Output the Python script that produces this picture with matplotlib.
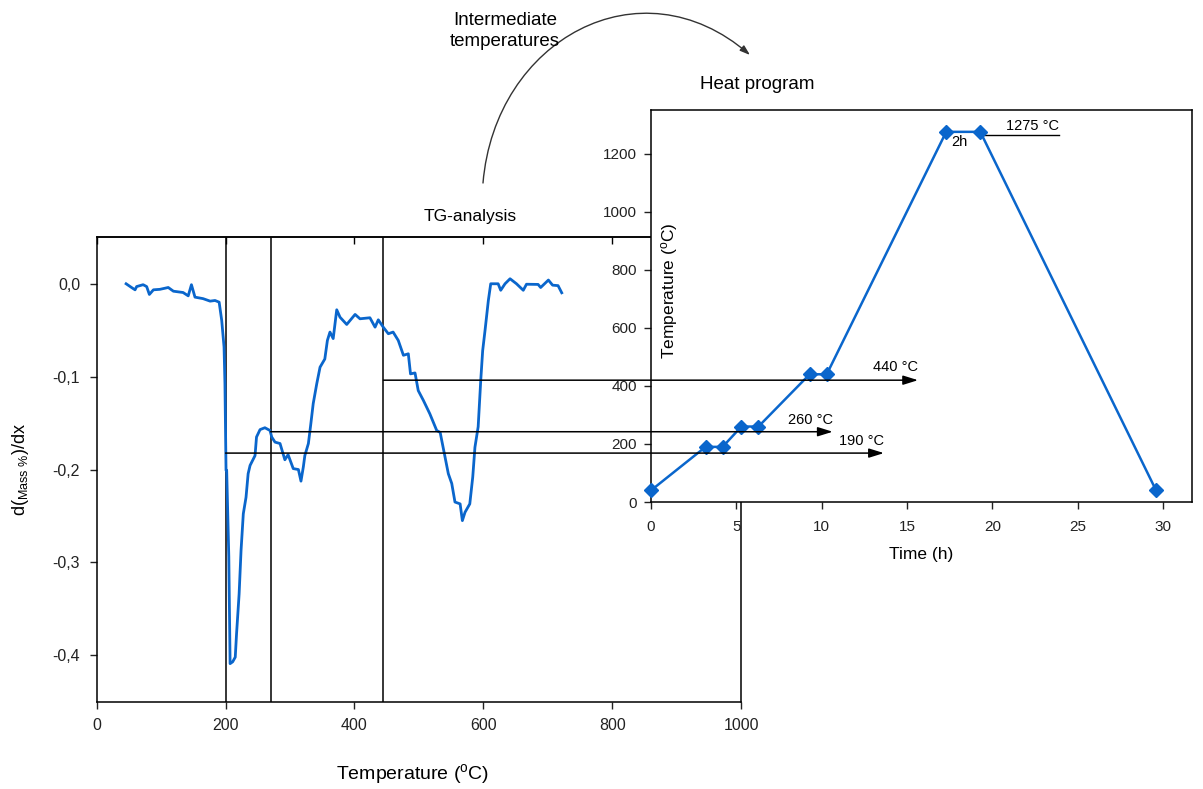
import matplotlib
matplotlib.use('Agg')
import matplotlib.pyplot as plt
from matplotlib.path import Path
from matplotlib.patches import FancyArrowPatch
from matplotlib.ticker import FuncFormatter
from matplotlib.transforms import blended_transform_factory

plt.rcParams['font.family'] = ['Liberation Sans', 'DejaVu Sans']
plt.rcParams['mathtext.fontset'] = 'custom'
plt.rcParams['mathtext.rm'] = 'Liberation Sans'
plt.rcParams['mathtext.it'] = 'Liberation Sans:italic'

BLUE = '#0a66cc'

# TG derivative curve
tg_temp = [45.6, 54, 59.5, 62, 72, 77.5, 81.7, 88, 98, 111, 119, 134, 142, 147, 152.5,
           165, 176, 183.6, 190, 194, 197.6, 199, 200.7, 201.7, 205, 206, 207, 211, 215,
           217, 221, 224, 227.5, 231.7, 235, 238, 245.7, 248, 253.5, 261, 269, 271.6,
           276.7, 284.5, 292, 297, 305, 313, 317, 320.7, 323, 328.5, 332, 336, 341.5,
           346.6, 354, 358, 362, 367, 372.5, 377.6, 388, 401, 408.6, 424, 432, 437, 445,
           452.6, 460, 468, 476, 483.6, 487, 494, 499, 507, 517, 527.7, 533, 540.6, 545.7,
           551, 556, 564, 567.5, 571.6, 579, 583.6, 587, 592, 596, 599, 602.7, 607.8,
           611.5, 623, 627, 633.7, 641.5, 651.5, 662, 667, 685, 689, 701, 707.5, 716, 721.7]
tg_dmass = [0.0, -0.004, -0.0065, -0.003, -0.001, -0.003, -0.0115, -0.0065, -0.006, -0.004,
            -0.008, -0.0094, -0.013, -0.001, -0.0144, -0.016, -0.0187, -0.018, -0.0198,
            -0.0395, -0.068, -0.1076, -0.201, -0.201, -0.294, -0.352, -0.409, -0.407, -0.402,
            -0.377, -0.334, -0.287, -0.2476, -0.23, -0.2045, -0.1956, -0.185, -0.165, -0.157,
            -0.155, -0.158, -0.165, -0.1705, -0.172, -0.1895, -0.184, -0.199, -0.2, -0.2125,
            -0.197, -0.185, -0.172, -0.1525, -0.129, -0.1076, -0.0898, -0.081, -0.061, -0.052,
            -0.059, -0.028, -0.036, -0.0438, -0.033, -0.0377, -0.0366, -0.0467, -0.0388,
            -0.047, -0.0538, -0.052, -0.061, -0.077, -0.0754, -0.097, -0.096, -0.115, -0.1256,
            -0.14, -0.158, -0.16, -0.1866, -0.2045, -0.215, -0.235, -0.237, -0.255, -0.246,
            -0.237, -0.208, -0.176, -0.154, -0.104, -0.072, -0.05, -0.018, 0.0, 0.0, -0.007,
            0.0, 0.0054, 0.0, -0.007, -0.0005, -0.0007, -0.004, 0.004, -0.0015, -0.002, -0.0097]

# heat program: time (h) vs furnace temperature
prog_time = [0, 3.2, 4.2, 5.3, 6.3, 9.3, 10.3, 17.3, 19.3, 29.6]
prog_temp = [40, 190, 190, 260, 260, 440, 440, 1275, 1275, 40]

# intermediate temperatures picked from the TG curve
step_labels = ['190 °C', '260 °C', '440 °C']
step_tg_temp = [200, 270, 445]
step_level = [-0.1823, -0.1593, -0.1038]
step_arrow_end = [13.65, 10.65, 15.65]
step_label_y = [209, 281, 464]


def comma_fmt(v, pos):
    if abs(v) < 1e-9:
        v = 0.0
    return f'{v:.1f}'.replace('.', ',')


fig = plt.figure(figsize=(12.03, 7.89), dpi=100)

# --- TG analysis ---
ax1 = fig.add_axes([0.0804, 0.1106, 0.5356, 0.5886])
ax1.plot(tg_temp, tg_dmass, color=BLUE, lw=2.0, zorder=3)
for t in step_tg_temp:
    ax1.axvline(t, color='black', lw=1.1, zorder=2)
ax1.set_xlim(0, 1000)
ax1.set_ylim(-0.45, 0.05)
ax1.set_xticks([0, 200, 400, 600, 800, 1000])
ax1.set_yticks([0.0, -0.1, -0.2, -0.3, -0.4])
ax1.yaxis.set_major_formatter(FuncFormatter(comma_fmt))
ax1.tick_params(axis='both', labelsize=11.5, length=5, width=1, colors='#222222', pad=7)
ax1.set_xlabel(r'Temperature ($^{\mathrm{o}}$C)', fontsize=14)
ax1.xaxis.set_label_coords(0.49, -0.13)
ax1.xaxis.label.set_va('top')
ax1.set_ylabel(r'd($_{\mathrm{Mass\ \%}}$)/dx', fontsize=13)
ax1.yaxis.set_label_coords(-0.102, 0.5)
for s in ax1.spines.values():
    s.set_linewidth(1.1)

# inward ticks along the top edge
top = ax1.secondary_xaxis('top')
top.set_xticks([0, 200, 400, 600, 800, 1000])
top.tick_params(direction='in', length=5, width=1, labeltop=False)
top.spines['top'].set_linewidth(1.1)

# --- heat program ---
ax2 = fig.add_axes([0.5411, 0.3637, 0.4497, 0.4968])
ax2.set_facecolor('white')
ax2.plot(prog_time, prog_temp, color=BLUE, lw=1.8, marker='D', ms=7.5,
         clip_on=False, zorder=3)
ax2.set_xlim(0, 31.7)
ax2.set_ylim(0, 1350)
ax2.set_xticks([0, 5, 10, 15, 20, 25, 30])
ax2.set_yticks([0, 200, 400, 600, 800, 1000, 1200])
ax2.tick_params(axis='both', labelsize=11, length=5, width=1, colors='#222222')
ax2.tick_params(axis='x', pad=8)
ax2.tick_params(axis='y', pad=5)
ax2.set_xlabel('Time (h)', fontsize=12.5)
ax2.xaxis.set_label_coords(0.5, -0.115)
ax2.xaxis.label.set_va('top')
ax2.set_ylabel(r'Temperature ($^{\mathrm{o}}$C)', fontsize=12.5)
ax2.yaxis.set_label_coords(0.054, 0.54)
for s in ax2.spines.values():
    s.set_linewidth(1.1)

ax2.text(18.1, 1239, '2h', fontsize=10.5, ha='center', va='center')
ax2.plot([19.3, 23.9], [1265, 1265], color='black', lw=1)
ax2.text(23.9, 1294, '1275 °C', fontsize=10.5, ha='right', va='center')

# arrows from the TG curve to the heat program steps
mix = blended_transform_factory(ax2.transData, ax1.transData)
for lab, t0, lvl, tip, ly in zip(step_labels, step_tg_temp, step_level,
                                  step_arrow_end, step_label_y):
    ax2.annotate('', xy=(tip, lvl), xycoords=mix, xytext=(t0, lvl),
                 textcoords=ax1.transData, annotation_clip=False,
                 arrowprops=dict(arrowstyle='-|>,head_length=0.9,head_width=0.28',
                                 color='black', lw=1.1, shrinkA=0, shrinkB=0))
    ax2.text(tip, ly, lab, fontsize=10.5, ha='right', va='center')

# titles and the curved pointer
fig.text(0.3907, 0.7262, 'TG-analysis', fontsize=12.5, ha='center', va='center')
fig.text(0.6293, 0.8923, 'Heat program', fontsize=13.5, ha='center', va='center')
fig.text(0.4198, 0.9607, 'Intermediate\ntemperatures', fontsize=13.5,
         ha='center', va='center', linespacing=1.3)

W, H = 1203.0, 789.0
pts = [(483, 183), (495, 40), (640, -40), (750, 55)]
verts = [(x / W, 1 - y / H) for x, y in pts]
curve = Path(verts, [Path.MOVETO, Path.CURVE4, Path.CURVE4, Path.CURVE4])
fig.patches.append(FancyArrowPatch(path=curve, transform=fig.transFigure,
                                   arrowstyle='-|>,head_length=0.6,head_width=0.2',
                                   mutation_scale=10, color='#333333', lw=1.0))

fig.savefig('out.png', dpi=100)
